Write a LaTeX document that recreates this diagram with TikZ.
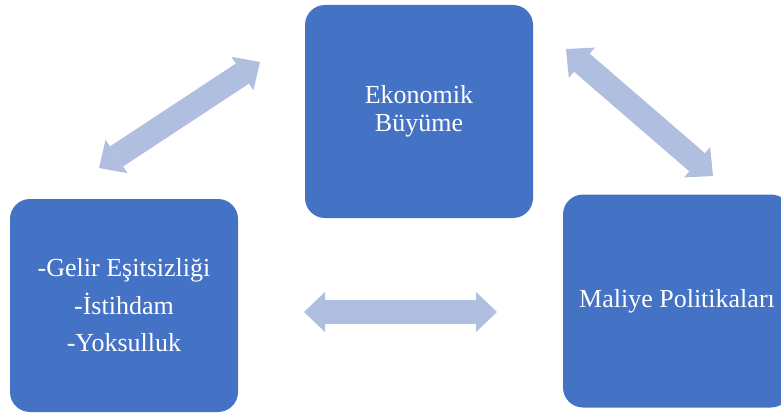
\documentclass[tikz,border=0pt]{standalone}
\usepackage{fontspec}
\setmainfont{Liberation Serif}
\usetikzlibrary{arrows.meta}
\definecolor{boxblue}{HTML}{4472C4}
\definecolor{arrowblue}{HTML}{B0BEE0}
\tikzset{
  bluebox/.style={draw=none, fill=boxblue, rounded corners=20pt,
    minimum width=228pt, minimum height=213pt, inner sep=0pt,
    text=white, align=center, font=\fontsize{26}{28}\selectfont},
  dblarrow/.style={draw=arrowblue, line width=24pt,
    {Triangle[length=21pt,width=40pt,line width=0pt]}-{Triangle[length=21pt,width=40pt,line width=0pt]}}
}
\begin{document}
\begin{tikzpicture}[x=1pt,y=-1pt]
  \useasboundingbox (0,0) rectangle (781,412);
  \clip (0,0) rectangle (781,412);
  \node[bluebox] (top) at (419,111.5) {Ekonomik\\Büyüme};
  \node[bluebox, font=\fontsize{26}{37.5}\selectfont] (left) at (124,305.5) {-Gelir Eşitsizliği\\-İstihdam\\-Yoksulluk};
  \node[bluebox] (right) at (677,301) {Maliye Politikaları};
  \coordinate (a1s) at (99,168);
  \coordinate (a1e) at (260,62);
  \coordinate (a2s) at (304,312);
  \coordinate (a2e) at (497,312);
  \coordinate (a3s) at (566,49);
  \coordinate (a3e) at (713,176);
  \draw[dblarrow] (a1s) -- (a1e);
  \draw[dblarrow] (a2s) -- (a2e);
  \draw[dblarrow] (a3s) -- (a3e);
\end{tikzpicture}
\end{document}
